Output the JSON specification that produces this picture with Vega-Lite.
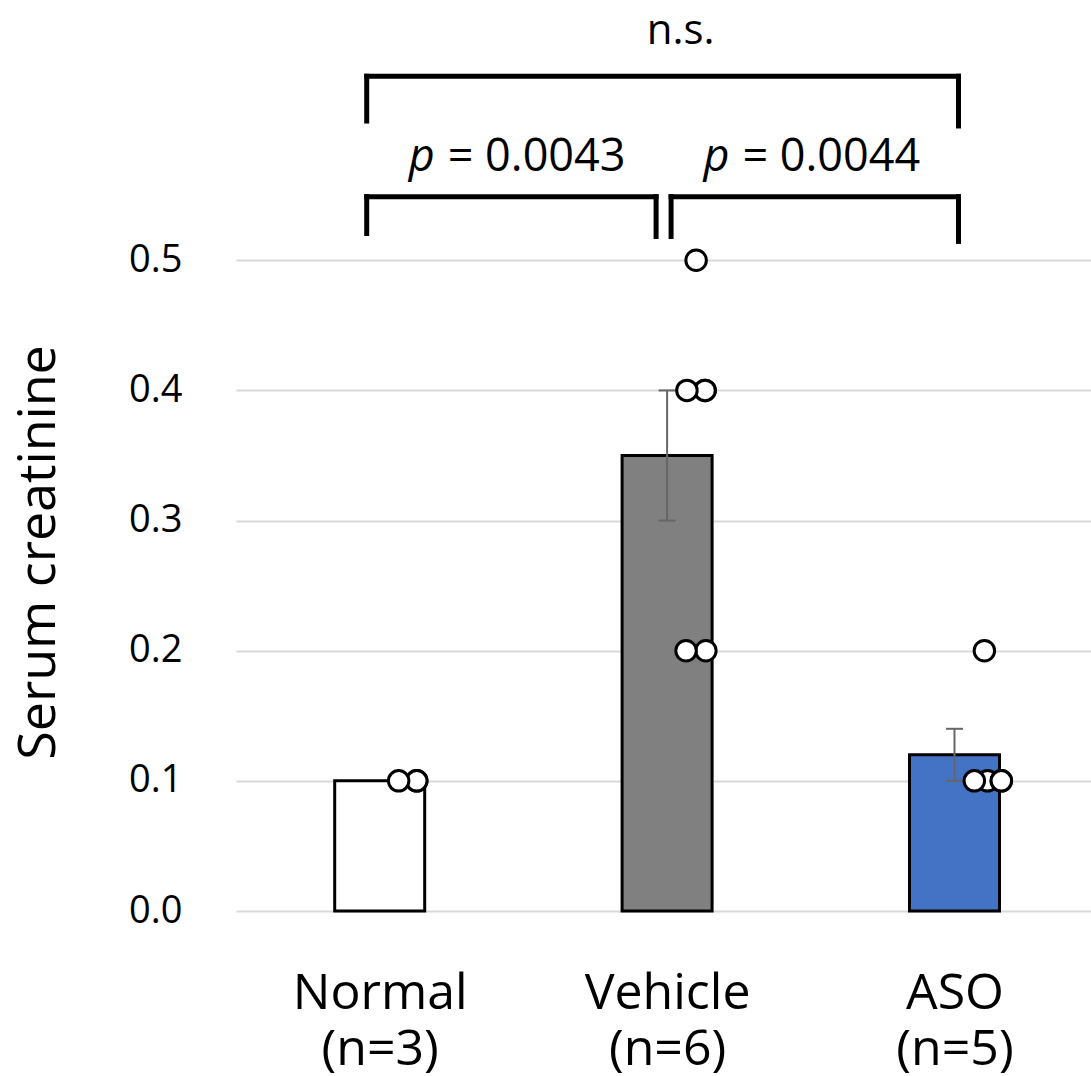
{
  "$schema": "https://vega.github.io/schema/vega-lite/v6.json",
  "width": 855,
  "height": 911,
  "autosize": {"type": "none"},
  "padding": {"left": 236, "top": 0, "right": 0, "bottom": 165},
  "background": "white",
  "config": {"view": {"stroke": null}, "font": "Open Sans"},
  "datasets": {
    "bars": [
      {"group": "Normal", "pos": 1, "mean": 0.1, "lo": null, "hi": null},
      {"group": "Vehicle", "pos": 2, "mean": 0.35, "lo": 0.3, "hi": 0.4},
      {"group": "ASO", "pos": 3, "mean": 0.12, "lo": 0.1, "hi": 0.14}
    ],
    "points": [
      {"group": "Normal", "x": 1.129, "value": 0.1},
      {"group": "Normal", "x": 1.129, "value": 0.1},
      {"group": "Normal", "x": 1.066, "value": 0.1},
      {"group": "Vehicle", "x": 2.101, "value": 0.5},
      {"group": "Vehicle", "x": 2.132, "value": 0.4},
      {"group": "Vehicle", "x": 2.132, "value": 0.4},
      {"group": "Vehicle", "x": 2.069, "value": 0.4},
      {"group": "Vehicle", "x": 2.135, "value": 0.2},
      {"group": "Vehicle", "x": 2.066, "value": 0.2},
      {"group": "ASO", "x": 3.104, "value": 0.2},
      {"group": "ASO", "x": 3.115, "value": 0.1},
      {"group": "ASO", "x": 3.163, "value": 0.1},
      {"group": "ASO", "x": 3.163, "value": 0.1},
      {"group": "ASO", "x": 3.069, "value": 0.1}
    ],
    "brackets": [
      {"x": 0.9548, "x2": 3.0139, "y": 0.6414, "y2": 0.6414},
      {"x": 0.9548, "x2": 0.9548, "y": 0.6414, "y2": 0.607},
      {"x": 3.0139, "x2": 3.0139, "y": 0.6414, "y2": 0.6032},
      {"x": 0.9548, "x2": 1.9617, "y": 0.5489, "y2": 0.5489},
      {"x": 0.9548, "x2": 0.9548, "y": 0.5489, "y2": 0.5206},
      {"x": 1.9617, "x2": 1.9617, "y": 0.5489, "y2": 0.5183},
      {"x": 2.0139, "x2": 3.0139, "y": 0.5489, "y2": 0.5489},
      {"x": 2.0139, "x2": 2.0139, "y": 0.5489, "y2": 0.5183},
      {"x": 3.0139, "x2": 3.0139, "y": 0.5489, "y2": 0.5145}
    ],
    "pvals": [
      {"px": 1.146, "ex": 1.2365, "y": 0.5688, "p": "p", "rest": "= 0.0043"},
      {"px": 2.172, "ex": 2.262, "y": 0.5688, "p": "p", "rest": "= 0.0044"}
    ],
    "ns": [
      {"x": 2.047, "y": 0.6659, "label": "n.s."}
    ]
  },
  "layer": [
    {
      "data": {"name": "bars"},
      "mark": {"type": "bar", "size": 90, "stroke": "black", "strokeWidth": 3},
      "encoding": {
        "x": {
          "field": "pos", "type": "quantitative",
          "scale": {"domain": [0.5, 3.475], "nice": false, "zero": false, "padding": 0},
          "axis": {
            "values": [1, 2, 3],
            "labelExpr": "datum.value == 1 ? ['Normal', '(n=3)'] : datum.value == 2 ? ['Vehicle', '(n=6)'] : ['ASO', '(n=5)']",
            "ticks": false, "domain": false, "grid": false, "title": null,
            "labelFontSize": 50, "labelPadding": 97, "labelBaseline": "alphabetic",
            "labelLineHeight": 56, "labelColor": "black", "labelOverlap": false,
            "labelFont": "Open Sans"
          }
        },
        "y": {
          "field": "mean", "type": "quantitative",
          "scale": {"domain": [0, 0.7], "nice": false, "padding": 0},
          "axis": {
            "values": [0, 0.1, 0.2, 0.3, 0.4, 0.5],
            "format": ".1f",
            "title": "Serum creatinine",
            "grid": true, "gridColor": "#d9d9d9", "gridWidth": 2,
            "domain": false, "ticks": false,
            "labelFontSize": 38, "labelPadding": 54, "labelColor": "black",
            "labelFont": "Open Sans",
            "titleFont": "Open Sans",
            "titleFontSize": 52, "titleFontWeight": "normal", "titleColor": "black",
            "titleX": -198, "titleY": 552, "titleAngle": -90,
            "titleAlign": "center", "titleBaseline": "middle"
          }
        },
        "fill": {
          "field": "group", "type": "nominal",
          "scale": {"domain": ["Normal", "Vehicle", "ASO"], "range": ["#ffffff", "#808080", "#4472c4"]},
          "legend": null
        }
      }
    },
    {
      "data": {"name": "bars"},
      "transform": [{"filter": "datum.lo != null"}],
      "mark": {"type": "rule", "color": "#666666", "strokeWidth": 2},
      "encoding": {
        "x": {"field": "pos", "type": "quantitative"},
        "y": {"field": "lo", "type": "quantitative"},
        "y2": {"field": "hi"}
      }
    },
    {
      "data": {"name": "bars"},
      "transform": [{"filter": "datum.lo != null"}],
      "mark": {"type": "point", "shape": "stroke", "size": 289, "stroke": "#666666", "strokeWidth": 2, "opacity": 1},
      "encoding": {
        "x": {"field": "pos", "type": "quantitative"},
        "y": {"field": "hi", "type": "quantitative"}
      }
    },
    {
      "data": {"name": "bars"},
      "transform": [{"filter": "datum.lo != null"}],
      "mark": {"type": "point", "shape": "stroke", "size": 289, "stroke": "#666666", "strokeWidth": 2, "opacity": 1},
      "encoding": {
        "x": {"field": "pos", "type": "quantitative"},
        "y": {"field": "lo", "type": "quantitative"}
      }
    },
    {
      "data": {"name": "points"},
      "mark": {"type": "point", "shape": "circle", "filled": true, "fill": "white", "stroke": "black", "strokeWidth": 3, "size": 420, "opacity": 1},
      "encoding": {
        "x": {"field": "x", "type": "quantitative"},
        "y": {"field": "value", "type": "quantitative"}
      }
    },
    {
      "data": {"name": "brackets"},
      "mark": {"type": "rule", "color": "black", "strokeWidth": 5, "strokeCap": "square"},
      "encoding": {
        "x": {"field": "x", "type": "quantitative"},
        "x2": {"field": "x2"},
        "y": {"field": "y", "type": "quantitative"},
        "y2": {"field": "y2"}
      }
    },
    {
      "data": {"name": "pvals"},
      "mark": {"type": "text", "fontSize": 45, "fontStyle": "italic", "font": "Open Sans", "align": "center", "baseline": "alphabetic", "color": "black"},
      "encoding": {
        "x": {"field": "px", "type": "quantitative"},
        "y": {"field": "y", "type": "quantitative"},
        "text": {"field": "p"}
      }
    },
    {
      "data": {"name": "pvals"},
      "mark": {"type": "text", "fontSize": 45, "font": "Open Sans", "align": "left", "baseline": "alphabetic", "color": "black"},
      "encoding": {
        "x": {"field": "ex", "type": "quantitative"},
        "y": {"field": "y", "type": "quantitative"},
        "text": {"field": "rest"}
      }
    },
    {
      "data": {"name": "ns"},
      "mark": {"type": "text", "fontSize": 42, "font": "Open Sans", "align": "center", "baseline": "alphabetic", "color": "black"},
      "encoding": {
        "x": {"field": "x", "type": "quantitative"},
        "y": {"field": "y", "type": "quantitative"},
        "text": {"field": "label"}
      }
    }
  ]
}
